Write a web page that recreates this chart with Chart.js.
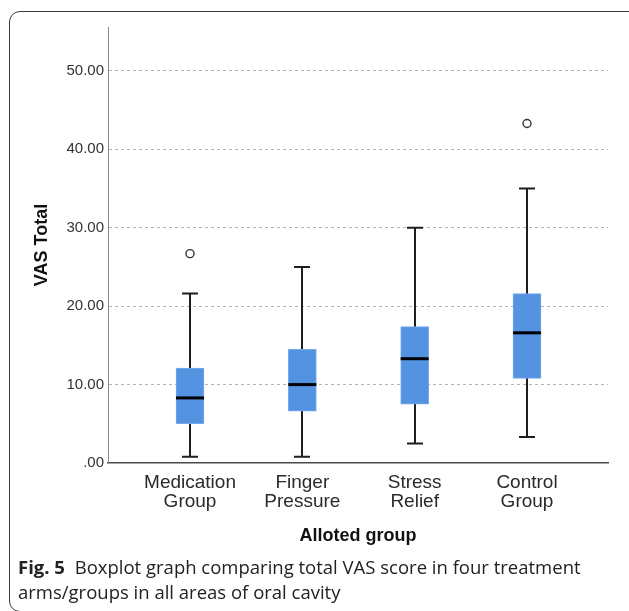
<!DOCTYPE html>
<html>
<head>
<meta charset="utf-8">
<script src="https://cdn.jsdelivr.net/npm/chart.js@4.4.1/dist/chart.umd.min.js"></script>
<style>
  html, body { margin: 0; padding: 0; background: #fff; }
  body { width: 629px; height: 611px; position: relative; overflow: hidden; }
  .card {
    position: absolute; left: 9px; top: 11px; width: 660px; height: 601px;
    border: 1.3px solid #3a3a3a; border-radius: 11px; box-sizing: border-box;
  }
  .plot { position: absolute; left: 0; top: 0; width: 629px; height: 555px; }
  .caption {
    position: absolute; left: 18px; top: 554px; width: 611px;
    font-family: "Open Sans", "Noto Sans", sans-serif; font-size: 18.5px;
    line-height: 25px; color: #222; white-space: nowrap;
  }
  .caption b { font-weight: 700; margin-right: 5px; }
</style>
</head>
<body>
<div class="card"></div>
<div class="plot"><canvas id="chart"></canvas></div>
<div class="caption"><b>Fig. 5</b> Boxplot graph comparing total VAS score in four treatment<br>arms/groups in all areas of oral cavity</div>
<script>
// Groups and five-number summaries of the VAS total score
const categories = [['Medication', 'Group'], ['Finger', 'Pressure'], ['Stress', 'Relief'], ['Control', 'Group']];
const whiskerLow = [0.8, 0.8, 2.5, 3.3];
const quartile1 = [5.0, 6.6, 7.5, 10.8];
const medians = [8.3, 10.0, 13.3, 16.6];
const quartile3 = [12.1, 14.5, 17.4, 21.6];
const whiskerHigh = [21.6, 25.0, 30.0, 35.0];
const outlierGroup = [0, 3];
const outlierValue = [26.7, 43.3];
const yTickValues = [0, 10, 20, 30, 40, 50];

const FONT = "Liberation Sans, Arial, sans-serif";

// Whiskers (under the boxes) and medians (over the boxes)
const boxplotParts = {
  id: 'boxplotParts',
  beforeDatasetsDraw(chart) {
    const { ctx, scales: { x, y } } = chart;
    ctx.save();
    ctx.strokeStyle = '#1e1e1e';
    ctx.lineWidth = 2;
    categories.forEach((_, i) => {
      const px = Math.round(x.getPixelForValue(i));
      const lo = y.getPixelForValue(whiskerLow[i]);
      const hi = y.getPixelForValue(whiskerHigh[i]);
      ctx.beginPath();
      ctx.moveTo(px, lo); ctx.lineTo(px, hi);
      ctx.moveTo(px - 8, lo); ctx.lineTo(px + 8, lo);
      ctx.moveTo(px - 8, hi); ctx.lineTo(px + 8, hi);
      ctx.stroke();
    });
    ctx.restore();
  },
  afterDatasetsDraw(chart) {
    const { ctx, scales: { x, y } } = chart;
    const meta = chart.getDatasetMeta(0);
    ctx.save();
    ctx.strokeStyle = '#000';
    ctx.lineWidth = 3;
    categories.forEach((_, i) => {
      const bar = meta.data[i];
      const half = bar.width / 2;
      const px = x.getPixelForValue(i);
      const py = y.getPixelForValue(medians[i]);
      ctx.beginPath();
      ctx.moveTo(px - half, py); ctx.lineTo(px + half, py);
      ctx.stroke();
    });
    ctx.restore();
  }
};

new Chart(document.getElementById('chart'), {
  type: 'bar',
  data: {
    datasets: [
      {
        type: 'bar',
        data: categories.map((_, i) => ({ x: i, y: [quartile1[i], quartile3[i]] })),
        backgroundColor: 'rgb(84, 147, 226)',
        borderColor: 'rgb(118, 170, 236)',
        borderWidth: 1,
        borderSkipped: false,
        barThickness: 28
      },
      {
        type: 'scatter',
        data: outlierGroup.map((g, k) => ({ x: g, y: outlierValue[k] })),
        pointStyle: 'circle',
        pointRadius: 4,
        pointBackgroundColor: '#fff',
        pointBorderColor: '#333',
        pointBorderWidth: 1.4
      }
    ]
  },
  options: {
    responsive: true,
    maintainAspectRatio: false,
    animation: false,
    events: [],
    layout: { padding: { top: 27, right: 21, left: 0, bottom: 0 } },
    plugins: { legend: { display: false }, tooltip: { enabled: false } },
    scales: {
      x: {
        type: 'linear',
        offset: false,
        min: -0.73,
        max: 3.721,
        afterBuildTicks(scale) { scale.ticks = categories.map((_, i) => ({ value: i })); },
        afterFit(scale) { scale.height = 92; },
        ticks: {
          autoSkip: false, maxRotation: 0, padding: 10,
          color: '#2a2a2a',
          font: { family: FONT, size: 19, lineHeight: 1.0 },
          callback: (v) => categories[v]
        },
        grid: { display: false, drawTicks: false, offset: false },
        border: { display: true, color: '#4a4a4a', width: 1.5 },
        title: {
          display: true, text: 'Alloted group', color: '#111',
          font: { family: FONT, size: 18, weight: 'bold' },
          padding: { top: 0, bottom: 8 }
        }
      },
      y: {
        min: 0,
        max: 55.6,
        afterBuildTicks(scale) { scale.ticks = yTickValues.map(v => ({ value: v })); },
        afterFit(scale) { scale.width = 108; },
        ticks: {
          padding: 4, color: '#333',
          font: { family: FONT, size: 15 },
          callback: (v) => (v === 0 ? '.00' : v.toFixed(2))
        },
        grid: {
          drawTicks: false,
          color: (c) => (c.tick && c.tick.value === 0 ? 'rgba(0,0,0,0)' : '#b4b4b4'),
          lineWidth: 1
        },
        border: { display: true, color: '#8a8a8a', width: 1, dash: [3, 3], dashOffset: 0 },
        title: {
          display: true, text: 'VAS Total', color: '#111',
          font: { family: FONT, size: 18, weight: 'bold' },
          padding: { top: 31, bottom: 0 }
        }
      }
    }
  },
  plugins: [boxplotParts]
});
</script>
</body>
</html>
